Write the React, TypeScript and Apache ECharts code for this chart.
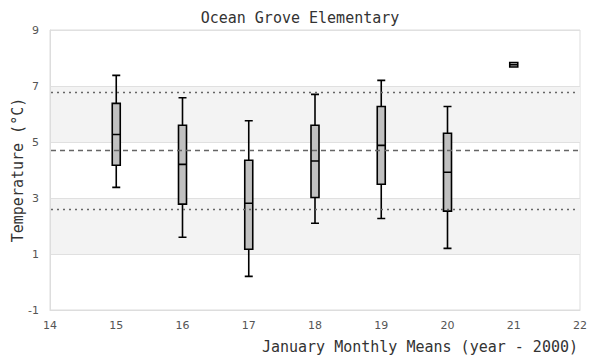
import React, { useEffect, useRef } from "react";
import * as echarts from "echarts";

const years = [15, 16, 17, 18, 19, 20, 21];
const mins = [3.38, 1.6, 0.2, 2.1, 2.27, 1.2, 7.68];
const q1s = [4.17, 2.78, 1.17, 3.02, 3.49, 2.53, 7.68];
const medians = [5.27, 4.2, 2.81, 4.32, 4.88, 3.92, 7.76];
const q3s = [6.38, 5.6, 4.35, 5.6, 6.27, 5.31, 7.84];
const maxs = [7.38, 6.58, 5.76, 6.7, 7.2, 6.27, 7.84];
const meanLine = 4.71;
const upperLine = 6.79;
const lowerLine = 2.61;
const yTicks = [-1, 1, 3, 5, 7, 9];
const xTicks = [14, 15, 16, 17, 18, 19, 20, 21, 22];

const chartTitle = "Ocean Grove Elementary";
const xTitle = "January Monthly Means (year - 2000)";
const yTitle = "Temperature (°C)";

export default function App() {
  const ref = useRef<HTMLDivElement>(null);
  useEffect(() => {
    if (!ref.current) return;
    const chart = echarts.init(ref.current, null, { renderer: "svg" });
    const boxData = years.map((y, i) => [y, mins[i], q1s[i], medians[i], q3s[i], maxs[i]]);
    const lineX0 = xTicks[0] + 0.015;
    const lineX1 = xTicks[xTicks.length - 1] - 0.03;
    const mono = "DejaVu Sans Mono";
    chart.setOption({
      animation: false,
      title: {
        text: chartTitle,
        left: "center",
        top: 5,
        textStyle: { fontFamily: mono, fontSize: 15, fontWeight: "normal", color: "#333" },
      },
      grid: {
        left: 50,
        right: 20,
        top: 30,
        bottom: 50,
        outerBoundsMode: "none",
        containLabel: false,
        show: true,
        borderColor: "#dddddd",
        borderWidth: 1,
        backgroundColor: "transparent",
      },
      xAxis: {
        type: "value",
        min: xTicks[0],
        max: xTicks[xTicks.length - 1],
        interval: 1,
        axisLine: { show: true, onZero: false, lineStyle: { color: "#dddddd" } },
        axisTick: { show: false },
        splitLine: { show: false },
        axisLabel: { color: "#555", fontFamily: "DejaVu Sans", fontSize: 11, margin: 10 },
      },
      yAxis: {
        type: "value",
        min: yTicks[0],
        max: yTicks[yTicks.length - 1],
        interval: 2,
        name: yTitle,
        nameLocation: "middle",
        nameRotate: 90,
        nameGap: 25,
        nameMoveOverlap: false,
        nameTextStyle: { fontFamily: mono, fontSize: 15, color: "#333" },
        axisLine: { show: true, onZero: false, lineStyle: { color: "#dddddd" } },
        axisTick: { show: false },
        splitLine: { show: true, lineStyle: { color: "#e0e0e0", width: 1 } },
        splitArea: { show: true, areaStyle: { color: ["rgba(255,255,255,0)", "#f3f3f3"] } },
        axisLabel: { color: "#555", fontFamily: "DejaVu Sans", fontSize: 11, margin: 11 },
      },
      graphic: [
        {
          type: "text",
          right: 22,
          top: 339,
          style: { text: xTitle, font: `15px "${mono}"`, fill: "#333" },
        },
      ],
      series: [
        {
          type: "boxplot",
          data: boxData,
          boxWidth: [8, 8],
          itemStyle: { color: "#c0c0c0", borderColor: "#000", borderWidth: 1.6 },
          markLine: {
            silent: true,
            symbol: "none",
            label: { show: false },
            data: [
              [
                { coord: [lineX0, meanLine], lineStyle: { type: [5, 4], color: "#666", width: 1.3 } },
                { coord: [lineX1, meanLine] },
              ],
              [
                { coord: [lineX0, upperLine], lineStyle: { type: [2, 4], color: "#666", width: 1.3 } },
                { coord: [lineX1, upperLine] },
              ],
              [
                { coord: [lineX0, lowerLine], lineStyle: { type: [2, 4], color: "#666", width: 1.3 } },
                { coord: [lineX1, lowerLine] },
              ],
            ],
          },
        },
      ],
    });
    return () => chart.dispose();
  }, []);
  return (
    <div
      ref={ref}
      style={{ position: "fixed", left: 0, top: 0, width: 600, height: 360, background: "#fff" }}
    />
  );
}
